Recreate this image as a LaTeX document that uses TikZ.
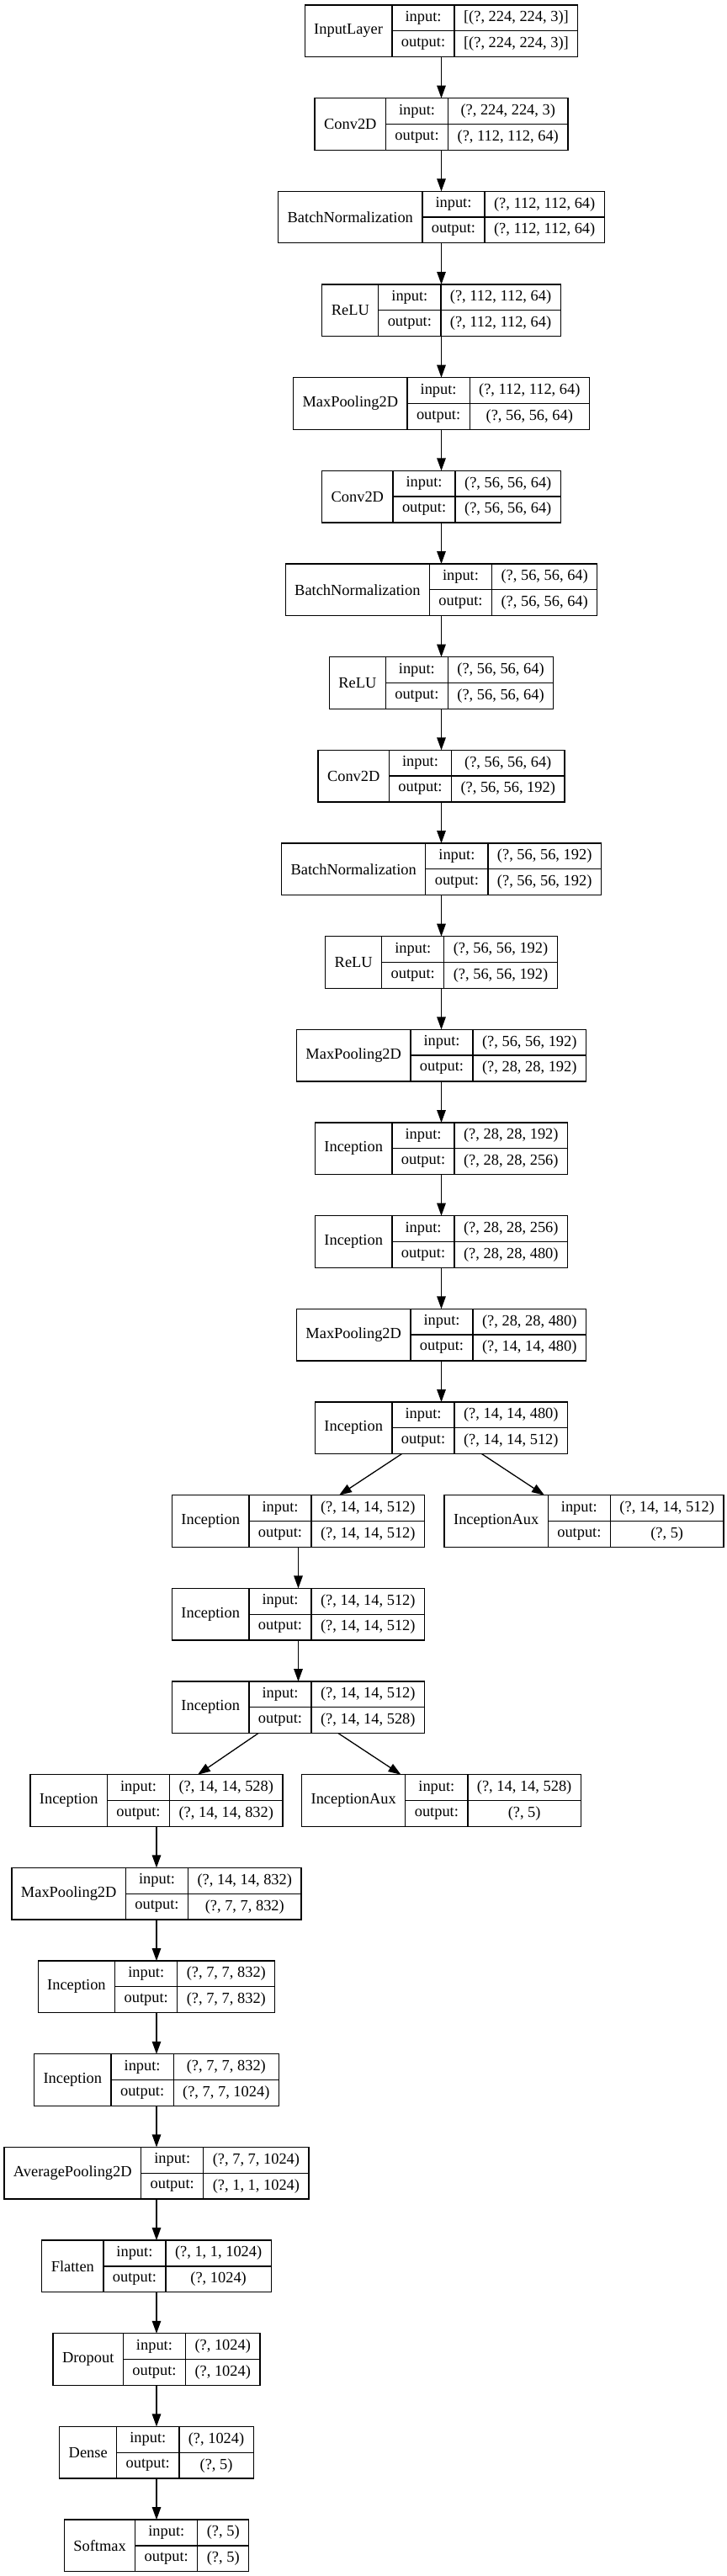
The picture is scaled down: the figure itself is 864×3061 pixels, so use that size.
\documentclass[tikz,border=0pt]{standalone}
\usepackage{fontspec}
\setmainfont{Liberation Serif}
\usepackage{tikz}
\usetikzlibrary{calc}
\usetikzlibrary{arrows.meta}
\newcommand{\layerfont}{\fontsize{18.4}{22}\selectfont}
\newlength\namew
\newlength\portw
\newlength\inw
\newlength\outw
\newlength\shapew
\newlength\boxw
\tikzset{
  recbox/.style={draw, line width=1.3pt, inner sep=0pt, outer sep=0pt, minimum height=61.5pt},
  recline/.style={line width=1.3pt},
  celltext/.style={inner sep=0pt, font=\layerfont},
  flow/.style={line width=1.3pt, -{Triangle[length=15pt,width=10.5pt]}}
}
% #1 node, #2 x centre, #3 row, #4 layer, #5 input shape, #6 output shape
\newcommand{\layer}[6]{
  \pgfinterruptpicture
  \global\setbox1=\hbox{\layerfont output:}\global\portw=\wd1
  \global\setbox1=\hbox{\layerfont #4}\global\namew=\wd1
  \global\setbox1=\hbox{\layerfont #5}\global\inw=\wd1
  \global\setbox1=\hbox{\layerfont #6}\global\outw=\wd1
  \endpgfinterruptpicture
  \addtolength{\portw}{22pt}\addtolength{\namew}{22pt}
  \ifdim\inw<\outw \setlength{\shapew}{\outw}\else\setlength{\shapew}{\inw}\fi
  \addtolength{\shapew}{22pt}
  \setlength{\boxw}{\dimexpr\namew+\portw+\shapew\relax}
  \node[recbox, minimum width=\boxw, anchor=north] (#1) at (#2, {6+(#3-1)*110.67}) {};
  \draw[recline] ([xshift=\namew]#1.north west) -- ([xshift=\namew]#1.south west);
  \draw[recline] ([xshift=\namew+\portw]#1.north west) -- ([xshift=\namew+\portw]#1.south west);
  \draw[recline] ([xshift=\namew]#1.west) -- (#1.east);
  \node[celltext] at ([xshift=0.5*\namew]#1.west) {#4};
  \node[celltext] at ([xshift=\namew+0.5*\portw, yshift=15.4pt]#1.west) {input:};
  \node[celltext] at ([xshift=\namew+0.5*\portw, yshift=-15.4pt]#1.west) {output:};
  \node[celltext] at ([xshift=\namew+\portw+0.5*\shapew, yshift=15.4pt]#1.west) {#5};
  \node[celltext] at ([xshift=\namew+\portw+0.5*\shapew, yshift=-15.4pt]#1.west) {#6};
}
\begin{document}
\begin{tikzpicture}[x=1pt, y=-1pt]
        \useasboundingbox (0,0) rectangle (864,3061);
        % stem
        \layer{in}{524.5}{1}{InputLayer}{[(?, 224, 224, 3)]}{[(?, 224, 224, 3)]}
        \layer{conva}{524.5}{2}{Conv2D}{(?, 224, 224, 3)}{(?, 112, 112, 64)}
        \layer{bna}{524.5}{3}{BatchNormalization}{(?, 112, 112, 64)}{(?, 112, 112, 64)}
        \layer{relua}{524.5}{4}{ReLU}{(?, 112, 112, 64)}{(?, 112, 112, 64)}
        \layer{poola}{524.5}{5}{MaxPooling2D}{(?, 112, 112, 64)}{(?, 56, 56, 64)}
        \layer{convb}{524.5}{6}{Conv2D}{(?, 56, 56, 64)}{(?, 56, 56, 64)}
        \layer{bnb}{524.5}{7}{BatchNormalization}{(?, 56, 56, 64)}{(?, 56, 56, 64)}
        \layer{relub}{524.5}{8}{ReLU}{(?, 56, 56, 64)}{(?, 56, 56, 64)}
        \layer{convc}{524.5}{9}{Conv2D}{(?, 56, 56, 64)}{(?, 56, 56, 192)}
        \layer{bnc}{524.5}{10}{BatchNormalization}{(?, 56, 56, 192)}{(?, 56, 56, 192)}
        \layer{reluc}{524.5}{11}{ReLU}{(?, 56, 56, 192)}{(?, 56, 56, 192)}
        \layer{poolb}{524.5}{12}{MaxPooling2D}{(?, 56, 56, 192)}{(?, 28, 28, 192)}
        % inception blocks
        \layer{inca}{524.5}{13}{Inception}{(?, 28, 28, 192)}{(?, 28, 28, 256)}
        \layer{incb}{524.5}{14}{Inception}{(?, 28, 28, 256)}{(?, 28, 28, 480)}
        \layer{poolc}{524.5}{15}{MaxPooling2D}{(?, 28, 28, 480)}{(?, 14, 14, 480)}
        \layer{incc}{524.5}{16}{Inception}{(?, 14, 14, 480)}{(?, 14, 14, 512)}
        \layer{incd}{354.5}{17}{Inception}{(?, 14, 14, 512)}{(?, 14, 14, 512)}
        \layer{auxa}{694}{17}{InceptionAux}{(?, 14, 14, 512)}{(?, 5)}
        \layer{ince}{354.5}{18}{Inception}{(?, 14, 14, 512)}{(?, 14, 14, 512)}
        \layer{incf}{354.5}{19}{Inception}{(?, 14, 14, 512)}{(?, 14, 14, 528)}
        \layer{incg}{186}{20}{Inception}{(?, 14, 14, 528)}{(?, 14, 14, 832)}
        \layer{auxb}{524.5}{20}{InceptionAux}{(?, 14, 14, 528)}{(?, 5)}
        \layer{poold}{186}{21}{MaxPooling2D}{(?, 14, 14, 832)}{(?, 7, 7, 832)}
        \layer{inch}{186}{22}{Inception}{(?, 7, 7, 832)}{(?, 7, 7, 832)}
        \layer{inci}{186}{23}{Inception}{(?, 7, 7, 832)}{(?, 7, 7, 1024)}
        % head
        \layer{avg}{186}{24}{AveragePooling2D}{(?, 7, 7, 1024)}{(?, 1, 1, 1024)}
        \layer{flat}{186}{25}{Flatten}{(?, 1, 1, 1024)}{(?, 1024)}
        \layer{drop}{186}{26}{Dropout}{(?, 1024)}{(?, 1024)}
        \layer{dense}{186}{27}{Dense}{(?, 1024)}{(?, 5)}
        \layer{soft}{186}{28}{Softmax}{(?, 5)}{(?, 5)}
        % edges
        \draw[flow] (in.south) -- (conva.north);
        \draw[flow] (conva.south) -- (bna.north);
        \draw[flow] (bna.south) -- (relua.north);
        \draw[flow] (relua.south) -- (poola.north);
        \draw[flow] (poola.south) -- (convb.north);
        \draw[flow] (convb.south) -- (bnb.north);
        \draw[flow] (bnb.south) -- (relub.north);
        \draw[flow] (relub.south) -- (convc.north);
        \draw[flow] (convc.south) -- (bnc.north);
        \draw[flow] (bnc.south) -- (reluc.north);
        \draw[flow] (reluc.south) -- (poolb.north);
        \draw[flow] (poolb.south) -- (inca.north);
        \draw[flow] (inca.south) -- (incb.north);
        \draw[flow] (incb.south) -- (poolc.north);
        \draw[flow] (poolc.south) -- (incc.north);
        \draw[flow] ([xshift=-47pt]incc.south) -- ([xshift=48.5pt]incd.north);
        \draw[flow] ([xshift=48pt]incc.south) -- ([xshift=-47pt]auxa.north);
        \draw[flow] (incd.south) -- (ince.north);
        \draw[flow] (ince.south) -- (incf.north);
        \draw[flow] ([xshift=-47.5pt]incf.south) -- ([xshift=49pt]incg.north);
        \draw[flow] ([xshift=47.5pt]incf.south) -- ([xshift=-48pt]auxb.north);
        \draw[flow] (incg.south) -- (poold.north);
        \draw[flow] (poold.south) -- (inch.north);
        \draw[flow] (inch.south) -- (inci.north);
        \draw[flow] (inci.south) -- (avg.north);
        \draw[flow] (avg.south) -- (flat.north);
        \draw[flow] (flat.south) -- (drop.north);
        \draw[flow] (drop.south) -- (dense.north);
        \draw[flow] (dense.south) -- (soft.north);
    \end{tikzpicture}
\end{document}
